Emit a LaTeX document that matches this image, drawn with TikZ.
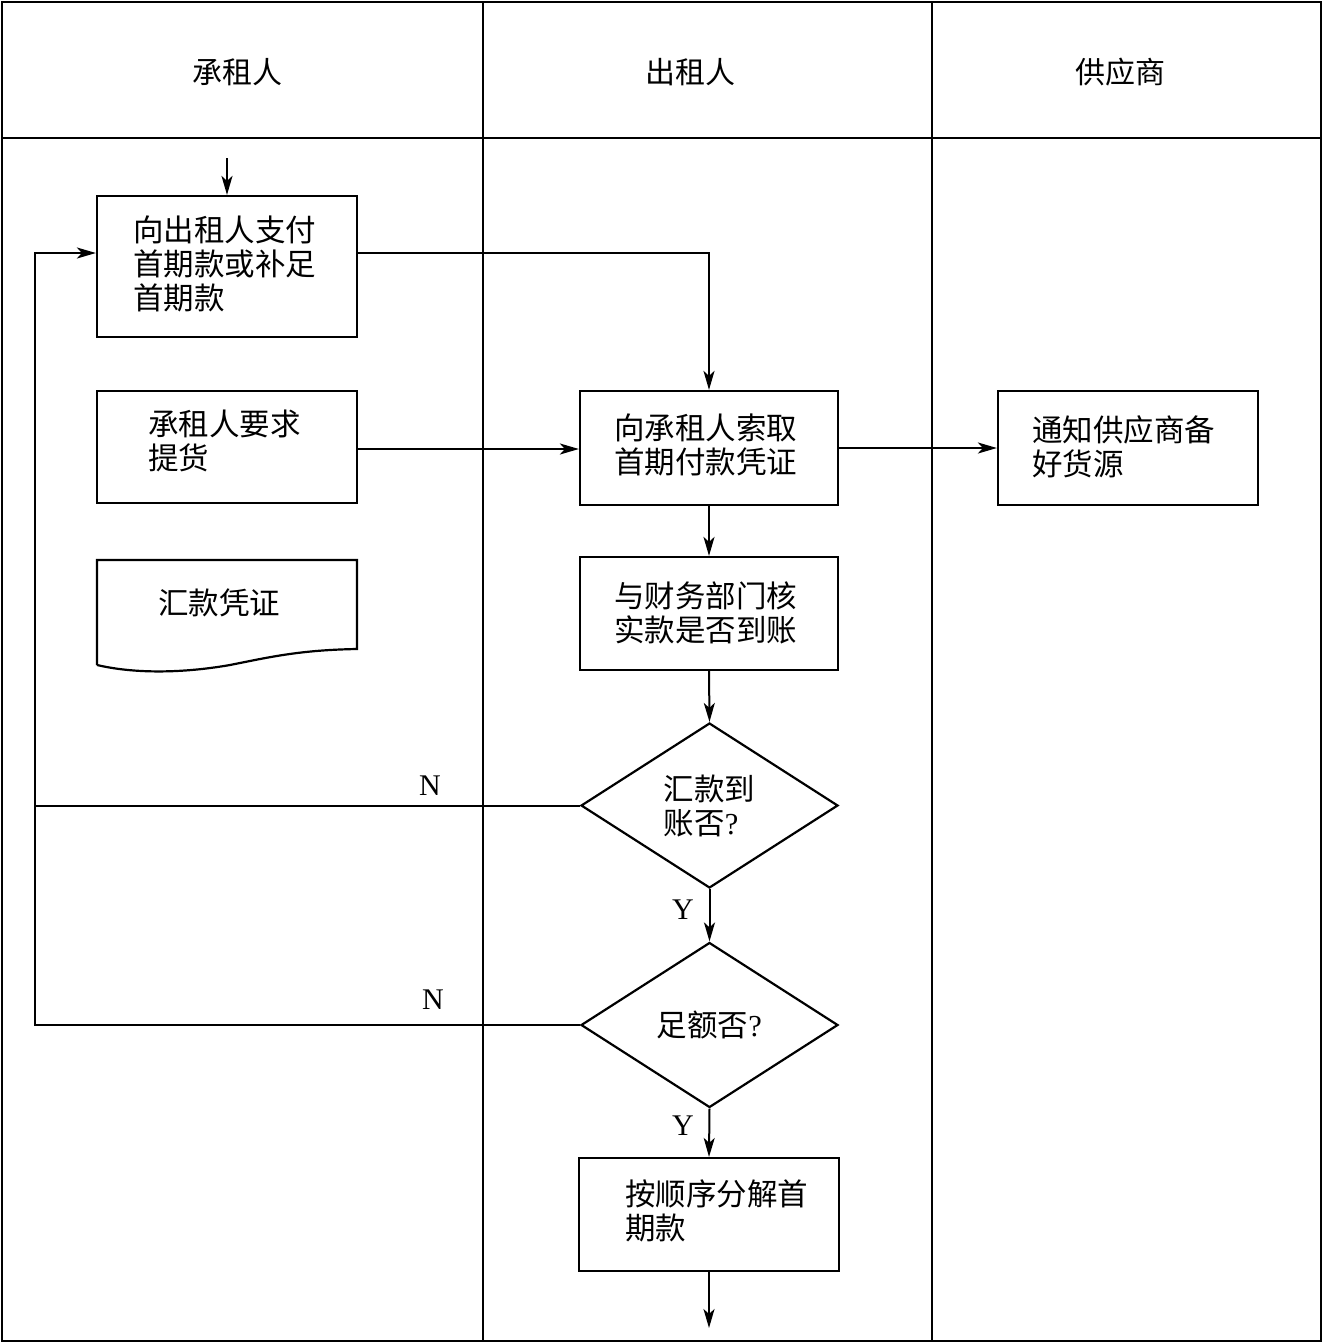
\documentclass[tikz,border=0pt]{standalone}
\usepackage{fontspec}
\setmainfont{Liberation Serif}
\newfontfamily\cjk{Noto Sans CJK SC}
\usetikzlibrary{arrows.meta,shapes.geometric,calc}
\begin{document}
\begin{tikzpicture}[x=1pt,y=-1pt,
  frame/.style={line width=2.8pt},
  box/.style={draw,line width=2.2pt,minimum width=260pt,inner sep=0pt},
  txt/.style={font=\fontsize{30.5}{34}\selectfont,align=left,inner sep=0pt},
  lab/.style={font=\fontsize{30}{34}\selectfont,inner sep=0pt},
  dia/.style={draw,diamond,line width=2.2pt,minimum width=257pt,minimum height=165pt,inner sep=0pt,font=\fontsize{30.5}{34}\selectfont,align=left},
  conn/.style={line width=2pt,-{Stealth[length=19pt,width=11pt,inset=5pt]}},
  plain/.style={line width=2pt}]
\useasboundingbox (0,0) rectangle (1323,1344);
% frame
\draw[frame] (2,2) rectangle (1321,1341);
\draw[frame] (2,138) -- (1321,138);
\draw[frame] (483,2) -- (483,1341);
\draw[frame] (932,2) -- (932,1341);
% headers
\node[lab] (h1) at (237,72) {\cjk 承租人};
\node[lab] (h2) at (690,72) {\cjk 出租人};
\node[lab] (h3) at (1120,72) {\cjk 供应商};
% boxes
\node[box,minimum height=141pt] (a) at (227,266.5) {};
\node[txt,anchor=west] (at) at (133,264) {\cjk 向出租人支付\\\cjk 首期款或补足\\\cjk 首期款};
\node[box,minimum height=112pt] (b) at (227,447) {};
\node[txt,anchor=west] (bt) at (148,440.5) {\cjk 承租人要求\\\cjk 提货};
% document
\draw[line width=2.2pt] (97,665) -- (97,560) -- (357,560) -- (357,649)
  .. controls (300,650) and (270,657) .. (230,665)
  .. controls (190,672) and (140,675) .. (97,665);
\node[txt,anchor=west] (ct) at (158,603) {\cjk 汇款凭证};
\node[box,minimum width=258pt,minimum height=114pt] (d) at (709,448) {};
\node[txt,anchor=west] (dt) at (614,445) {\cjk 向承租人索取\\\cjk 首期付款凭证};
\node[box,minimum height=114pt] (e) at (1128,448) {};
\node[txt,anchor=west] (et) at (1032,446.5) {\cjk 通知供应商备\\\cjk 好货源};
\node[box,minimum width=258pt,minimum height=113pt] (f) at (709,613.5) {};
\node[txt,anchor=west] (ft) at (614,613) {\cjk 与财务部门核\\\cjk 实款是否到账};
\node[dia] (g) at (709.5,805.5) {{\cjk 汇款到}\\{\cjk 账否}?};
\node[dia] (h) at (709.5,1025) {{\cjk 足额否}?};
\node[box,minimum height=113pt] (i) at (709,1214.5) {};
\node[txt,anchor=west] (it) at (625,1211) {\cjk 按顺序分解首\\\cjk 期款};
% connectors
\coordinate (start) at (227,158);
\coordinate (endb) at (709,1328);
\coordinate (lx) at (35,805.5);
\coordinate (ly) at (35,1025);
\draw[conn] (start) -- (a.north);
\draw[conn] ([yshift=13.5pt]a.east) -| (d.north);
\draw[conn] ([yshift=-2pt]b.east) -- ([yshift=-1pt]d.west);
\draw[conn] (d.east) -- (e.west);
\draw[conn] (d.south) -- (f.north);
\draw[conn] (f.south) -- (g.north);
\draw[conn] (g.south) -- (h.north);
\draw[conn] (h.south) -- (i.north);
\draw[conn] (i.south) -- (endb);
\draw[plain] (h.west) -- (ly) -- (lx);
\draw[conn] (g.west) -- (lx) |- ([yshift=13.5pt]a.west);
% labels
\node[lab] (n1) at (430,786) {N};
\node[lab] (n2) at (433,1000) {N};
\node[lab] (y1) at (683,910) {Y};
\node[lab] (y2) at (683,1126) {Y};
\end{tikzpicture}
\end{document}
